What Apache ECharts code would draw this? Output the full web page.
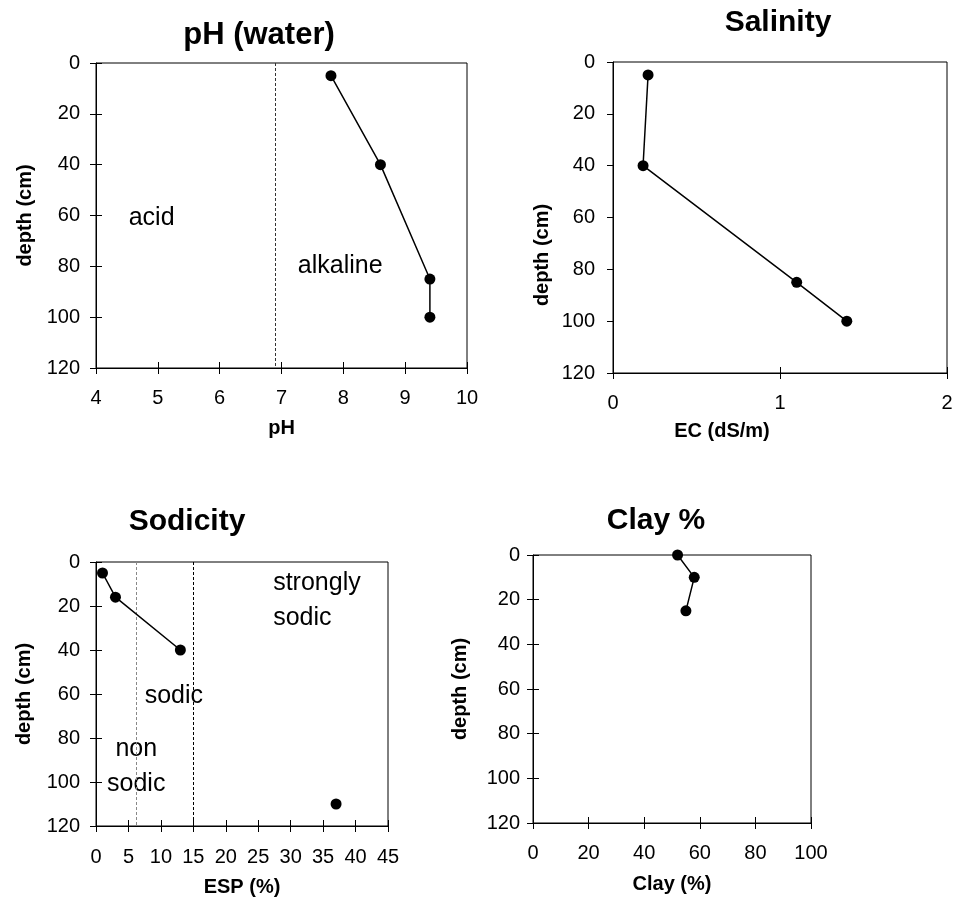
<!DOCTYPE html>
<html>
<head>
<meta charset="utf-8">
<script src="https://cdn.jsdelivr.net/npm/echarts@6/dist/echarts.min.js"></script>
<style>
  html, body { margin: 0; background: #fff; }
  #soilChart { width: 957px; height: 899px; }
</style>
</head>
<body>
<div id="soilChart"></div>
<script>
// 데이터
const phValues = [7.8, 8.6, 9.4, 9.4];
const phDepths = [5, 40, 85, 100];
const ecValues = [0.21, 0.18, 1.1, 1.4];
const ecDepths = [5, 40, 85, 100];
const espValues = [1, 3, 13];
const espDepths = [5, 16, 40];
const espDeepValue = [37];
const espDeepDepth = [110];
const clayValues = [52, 58, 55];
const clayDepths = [0, 10, 25];
const phNeutral = [6.9];
const espLimits = [6.2, 15];

const titles = ['pH (water)', 'Salinity', 'Sodicity', 'Clay %'];
const xNames = ['pH', 'EC (dS/m)', 'ESP (%)', 'Clay (%)'];
const yName = 'depth (cm)';
const xRanges = [[4, 10, 1], [0, 2, 1], [0, 45, 5], [0, 100, 20]];
const depthRange = [0, 120, 20];
const phZoneText = ['acid', 'alkaline'];
const espZoneText = ['strongly\nsodic', 'sodic', 'non\nsodic'];

const FONT = 'Liberation Sans, Arial, sans-serif';

const pairs = (xs, ys) => xs.map((v, i) => [v, ys[i]]);

// 패널 배치
const panels = [
    { grid: { left: 96, top: 63, width: 371, height: 305 }, title: [259, 35, 31],
      xGap: 50, yGap: 61, xPad: 0, yPad: 0, xMargin: 20, yMargin: 16, cross: true },
    { grid: { left: 613, top: 62, width: 334, height: 311 }, title: [778, 23, 30],
      xGap: 48, yGap: 61, xPad: 116, yPad: 75, xMargin: 20, yMargin: 18, cross: false },
    { grid: { left: 96, top: 562, width: 292, height: 264 }, title: [187, 522, 30],
      xGap: 51, yGap: 62, xPad: 0, yPad: 0, xMargin: 21, yMargin: 16, cross: true },
    { grid: { left: 533, top: 555, width: 278, height: 268 }, title: [656, 521, 30],
      xGap: 51, yGap: 63, xPad: 0, yPad: 0, xMargin: 20, yMargin: 13, cross: true },
];

const chartDom = document.getElementById('soilChart');
const myChart = echarts.init(chartDom);

const grids = [], xAxes = [], yAxes = [], titleList = [];

panels.forEach((p, i) => {
    grids.push(Object.assign({ show: true, borderColor: '#000', borderWidth: 1, backgroundColor: '#fff' }, p.grid));

    titleList.push({
        text: titles[i], left: p.title[0], top: p.title[1], padding: 0,
        textAlign: 'center', textVerticalAlign: 'middle',
        textStyle: { fontFamily: FONT, fontSize: p.title[2], fontWeight: 'bold', color: '#000' }
    });

    const [xMin, xMax, xStep] = xRanges[i];
    xAxes.push({
        type: 'value', gridIndex: i, position: 'bottom',
        min: xMin, max: xMax, interval: xStep,
        name: xNames[i], nameLocation: 'middle', nameGap: p.xGap,
        nameTextStyle: { fontFamily: FONT, fontSize: 20, fontWeight: 'bold', color: '#000', padding: [0, p.xPad, 0, 0] },
        axisLine: { show: true, onZero: false, lineStyle: { color: '#000', width: 1 } },
        axisTick: { show: true, inside: false, length: 6, lineStyle: { color: '#000' } },
        axisLabel: { fontFamily: FONT, fontSize: 20, color: '#000', margin: p.xMargin },
        splitLine: { show: false }
    });
    // 축 안쪽 눈금 (교차 눈금)
    xAxes.push({
        type: 'value', gridIndex: i, position: 'bottom',
        min: xMin, max: xMax, interval: xStep,
        axisLine: { show: false, onZero: false },
        axisTick: { show: true, inside: true, length: 6, lineStyle: { color: '#000' } },
        axisLabel: { show: false },
        splitLine: { show: false }
    });

    yAxes.push({
        type: 'value', gridIndex: i, position: 'left', inverse: true,
        min: depthRange[0], max: depthRange[1], interval: depthRange[2],
        name: yName, nameLocation: 'middle', nameGap: p.yGap,
        nameTextStyle: { fontFamily: FONT, fontSize: 20, fontWeight: 'bold', color: '#000', padding: [0, p.yPad, 0, 0] },
        axisLine: { show: true, onZero: false, lineStyle: { color: '#000', width: 1 } },
        axisTick: { show: true, inside: false, length: 6, lineStyle: { color: '#000' } },
        axisLabel: { fontFamily: FONT, fontSize: 20, color: '#000', margin: p.yMargin },
        splitLine: { show: false }
    });
    yAxes.push({
        type: 'value', gridIndex: i, position: 'left', inverse: true,
        min: depthRange[0], max: depthRange[1], interval: depthRange[2],
        axisLine: { show: false, onZero: false },
        axisTick: { show: p.cross, inside: true, length: 6, lineStyle: { color: '#000' } },
        axisLabel: { show: false },
        splitLine: { show: false }
    });
});

const lineSeries = (i, data, extra) => Object.assign({
    type: 'line', xAxisIndex: 2 * i, yAxisIndex: 2 * i,
    data: data, symbol: 'circle', symbolSize: 11, showSymbol: true,
    lineStyle: { color: '#000', width: 1.5 },
    itemStyle: { color: '#000' },
    silent: true, z: 5
}, extra || {});

// 구간 이름 (acid, sodic ...)
const textSeries = (i, items, align) => ({
    type: 'scatter', xAxisIndex: 2 * i, yAxisIndex: 2 * i,
    symbolSize: 0, silent: true, z: 3,
    itemStyle: { opacity: 1, color: '#000' },
    data: items,
    label: {
        show: true, position: 'inside', formatter: (d) => d.name,
        fontFamily: FONT, fontSize: 25, color: '#000', opacity: 1, textBorderWidth: 0,
        align: align || 'center', lineHeight: 35
    }
});

const vLine = (values, colors) => ({
    silent: true, symbol: ['none', 'none'], label: { show: false },
    data: values.map((v, k) => ({ xAxis: v, lineStyle: { color: colors[k], type: [3, 2], width: 1 } }))
});

const series = [
    lineSeries(0, pairs(phValues, phDepths), { markLine: vLine(phNeutral, ['#333']) }),
    textSeries(0, [
        { name: phZoneText[0], value: [4.9, 61] },
        { name: phZoneText[1], value: [7.95, 80] }
    ]),
    lineSeries(1, pairs(ecValues, ecDepths)),
    lineSeries(2, pairs(espValues, espDepths), { markLine: vLine(espLimits, ['#888', '#000']) }),
    lineSeries(2, pairs(espDeepValue, espDeepDepth)),
    textSeries(2, [{ name: espZoneText[0], value: [27.3, 17.6] }], 'left'),
    textSeries(2, [
        { name: espZoneText[1], value: [12.0, 61] },
        { name: espZoneText[2], value: [6.2, 93.2] }
    ]),
    lineSeries(3, pairs(clayValues, clayDepths))
];

myChart.setOption({
    animation: false,
    backgroundColor: '#fff',
    title: titleList,
    grid: grids,
    xAxis: xAxes,
    yAxis: yAxes,
    series: series
});

new ResizeObserver(() => myChart.resize()).observe(chartDom);
</script>
</body>
</html>
